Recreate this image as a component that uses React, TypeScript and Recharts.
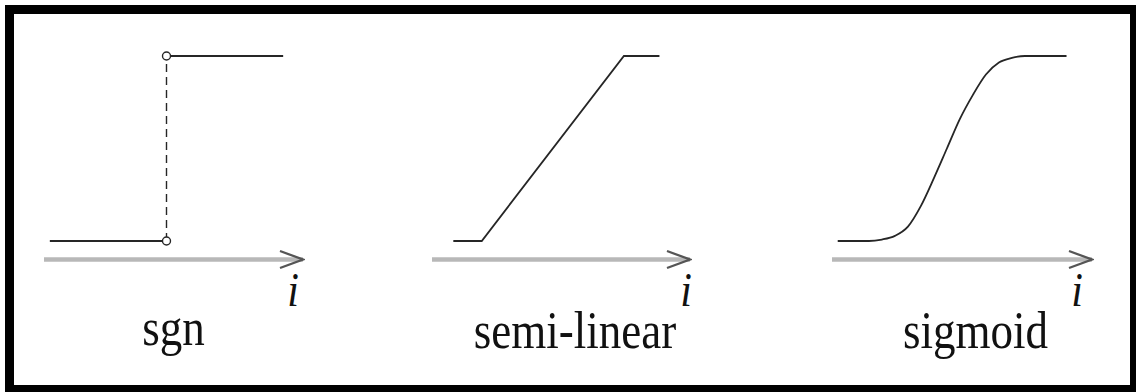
import { LineChart, Line, XAxis, YAxis } from 'recharts'

// sgn: two flat pieces and the jump between them
const sgnLow = [{ i: -2, v: 0 }, { i: 0, v: 0 }]
const sgnHigh = [{ i: 0, v: 1 }, { i: 2, v: 1 }]
const sgnJump = [{ i: 0, v: 0 }, { i: 0, v: 1 }]

// semi-linear
const semiI = [-1.4, -1, 1, 1.5]
const semiV = [0, 0, 1, 1]

// sigmoid
const sigI = [-4.2, -3, -2.5, -2, -1.5, -1, -0.5, 0, 0.5, 1, 1.5, 2, 2.5, 3, 4.6]
const sigV = [0, 0, 0.008, 0.028, 0.078, 0.19, 0.34, 0.5, 0.66, 0.79, 0.9, 0.965, 0.99, 1, 1]

const titles = ['sgn', 'semi-linear', 'sigmoid']
const axisName = 'i'

const semiData = semiI.map((i, k) => ({ i, v: semiV[k] }))
const sigData = sigI.map((i, k) => ({ i, v: sigV[k] }))

const W = 1136
const H = 392
const INK = '#262626'
const FONT = '"Liberation Serif", "Times New Roman", serif'

type PanelCfg = {
  id: string
  left: number
  right: number
  domain: [number, number]
  titleDx: number
  titleDy: number
  iDx: number
}

const panels: PanelCfg[] = [
  { id: 'sgn', left: 44, right: 303, domain: [-2.1, 2.34], titleDx: 0, titleDy: 85, iDx: -10 },
  { id: 'semi', left: 432, right: 690, domain: [-1.7, 1.93], titleDx: 14, titleDy: 88.5, iDx: -4 },
  { id: 'sig', left: 832, right: 1092, domain: [-4.42, 5.58], titleDx: 13.5, titleDy: 88.5, iDx: -15 },
]

function Caption({ viewBox, title, cfg }: any) {
  const { x, y, width } = viewBox || { x: 0, y: 0, width: 0 }
  return (
    <g>
      <text
        transform={`translate(${x + width + cfg.iDx},${y + 46.5}) scale(1,1.16)`}
        textAnchor="middle"
        fontFamily={FONT}
        fontStyle="italic"
        fontSize={42}
        fill="#111"
      >
        {axisName}
      </text>
      <text
        transform={`translate(${x + width / 2 + cfg.titleDx},${y + cfg.titleDy}) scale(1,1.16)`}
        textAnchor="middle"
        fontFamily={FONT}
        fontSize={45}
        fill="#111"
      >
        {title}
      </text>
    </g>
  )
}

function Panel({ cfg, title, children }: { cfg: PanelCfg; title: string; children: any }) {
  return (
    <div style={{ position: 'absolute', left: 0, top: 0 }}>
      <LineChart
        width={W}
        height={H}
        margin={{ top: 37.5, bottom: 32.5, left: cfg.left, right: W - cfg.right }}
      >
        <defs>
          <marker
            id={`arrow-${cfg.id}`}
            markerUnits="userSpaceOnUse"
            markerWidth={26}
            markerHeight={22}
            viewBox="0 0 26 22"
            refX={24}
            refY={11}
            orient="auto"
          >
            <path d="M1 2.5 L24 11 L1 19.5" fill="none" stroke="#555" strokeWidth={2.3} />
          </marker>
        </defs>
        <XAxis
          type="number"
          dataKey="i"
          domain={cfg.domain}
          tick={false}
          tickLine={false}
          height={100}
          axisLine={{ stroke: '#b8b8b8', strokeWidth: 4.5, markerEnd: `url(#arrow-${cfg.id})` }}
          label={<Caption title={title} cfg={cfg} />}
        />
        <YAxis hide width={0} type="number" domain={[-0.1, 1.1]} />
        {children}
      </LineChart>
    </div>
  )
}

export default function App() {
  return (
    <div style={{ position: 'absolute', left: 0, top: 0, width: W, height: H, background: '#fff', overflow: 'hidden' }}>
      <div
        style={{
          position: 'absolute',
          left: 5,
          top: 5,
          width: 1131,
          height: 387,
          boxSizing: 'border-box',
          borderStyle: 'solid',
          borderColor: '#000',
          borderWidth: '9px 6px 7px 9px',
        }}
      />
      <Panel cfg={panels[0]} title={titles[0]}>
        <Line data={sgnLow} dataKey="v" type="linear" stroke={INK} strokeWidth={1.8} dot={false} isAnimationActive={false} />
        <Line data={sgnHigh} dataKey="v" type="linear" stroke={INK} strokeWidth={1.8} dot={false} isAnimationActive={false} />
        <Line
          data={sgnJump}
          dataKey="v"
          type="linear"
          stroke={INK}
          strokeWidth={1.4}
          strokeDasharray="8 5"
          dot={{ r: 4, fill: '#fff', stroke: INK, strokeWidth: 1.4, strokeDasharray: 'none' }}
          isAnimationActive={false}
        />
      </Panel>
      <Panel cfg={panels[1]} title={titles[1]}>
        <Line data={semiData} dataKey="v" type="linear" stroke={INK} strokeWidth={1.8} dot={false} isAnimationActive={false} />
      </Panel>
      <Panel cfg={panels[2]} title={titles[2]}>
        <Line data={sigData} dataKey="v" type="monotone" stroke={INK} strokeWidth={1.8} dot={false} isAnimationActive={false} />
      </Panel>
    </div>
  )
}
